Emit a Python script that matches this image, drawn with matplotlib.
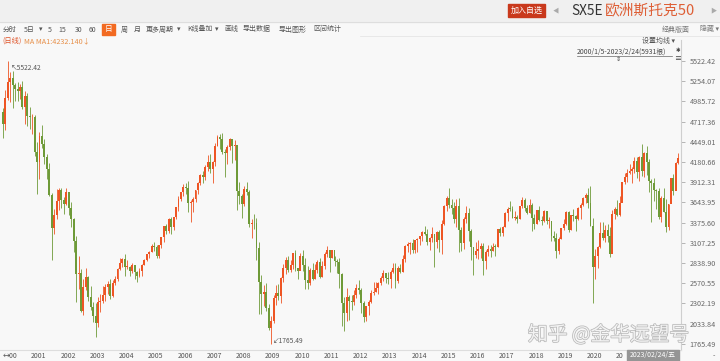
import matplotlib
matplotlib.use("Agg")
import matplotlib.pyplot as plt
import matplotlib.patheffects as pe
from matplotlib.patches import Rectangle

plt.rcParams['font.family'] = ['Noto Sans CJK SC', 'DejaVu Sans']

# SX5E monthly candles, Jan 2000 .. Feb 2023
first_open = 4849
closes = [
    4684, 5034, 5249, 5303, 5200, 5145, 5122, 5175, 4915, 5058, 4790, 4772,  # 2000
    4780, 4319, 4185, 4526, 4426, 4243, 4091, 3744, 3297, 3478, 3658, 3806,  # 2001
    3670, 3625, 3784, 3574, 3425, 3133, 2686, 2710, 2204, 2518, 2657, 2386,  # 2002
    2248, 2140, 2036, 2324, 2330, 2419, 2519, 2556, 2395, 2575, 2631, 2761,  # 2003
    2839, 2894, 2787, 2788, 2736, 2811, 2720, 2670, 2726, 2812, 2876, 2951,  # 2004
    2984, 3058, 3056, 2930, 3076, 3182, 3326, 3263, 3429, 3321, 3447, 3579,  # 2005
    3692, 3775, 3854, 3839, 3637, 3649, 3692, 3809, 3899, 4004, 3987, 4120,  # 2006
    4179, 4088, 4182, 4393, 4511, 4489, 4315, 4294, 4381, 4490, 4396, 4400,  # 2007
    3792, 3724, 3628, 3826, 3777, 3352, 3368, 3365, 3038, 2592, 2430, 2451,  # 2008
    2237, 1977, 2071, 2375, 2442, 2401, 2638, 2775, 2873, 2743, 2817, 2966,  # 2009
    2776, 2728, 2931, 2817, 2610, 2574, 2742, 2623, 2748, 2845, 2651, 2793,  # 2010
    2954, 3013, 2911, 3011, 2862, 2849, 2692, 2301, 2179, 2385, 2330, 2317,  # 2011
    2417, 2512, 2477, 2306, 2118, 2265, 2325, 2440, 2454, 2503, 2575, 2636,  # 2012
    2703, 2634, 2624, 2712, 2770, 2603, 2768, 2721, 2893, 3068, 3086, 3109,  # 2013
    3013, 3149, 3162, 3198, 3245, 3228, 3116, 3172, 3226, 3113, 3251, 3146,  # 2014
    3351, 3599, 3697, 3615, 3570, 3424, 3600, 3270, 3101, 3418, 3506, 3268,  # 2015
    3045, 2946, 3004, 3028, 3063, 2865, 2990, 3023, 3002, 3055, 3052, 3291,  # 2016
    3231, 3320, 3501, 3560, 3555, 3442, 3450, 3421, 3595, 3674, 3570, 3504,  # 2017
    3609, 3439, 3362, 3536, 3407, 3396, 3525, 3393, 3399, 3198, 3173, 3001,  # 2018
    3159, 3298, 3352, 3515, 3281, 3474, 3467, 3427, 3569, 3604, 3704, 3745,  # 2019
    3641, 3329, 2786, 2928, 3050, 3234, 3174, 3273, 3194, 2958, 3493, 3553,  # 2020
    3481, 3636, 3919, 3975, 4039, 4064, 4089, 4196, 4048, 4250, 4063, 4298,  # 2021
    4174, 3924, 3903, 3803, 3789, 3455, 3708, 3517, 3318, 3618, 3965, 3794,  # 2022
    4163, 4232,                                                              # 2023
]
highs = [
    4904, 5137, 5522, 5370, 5395, 5233, 5237, 5217, 5258, 5122, 5102, 4917,
    4815, 4800, 4452, 4581, 4672, 4483, 4286, 4165, 3771, 3560, 3825, 3830,
    3837, 3716, 3833, 3784, 3654, 3436, 3194, 2926, 2755, 2619, 2769, 2671,
    2529, 2316, 2301, 2383, 2421, 2527, 2560, 2600, 2624, 2611, 2664, 2770,
    2911, 2905, 2959, 2880, 2802, 2843, 2814, 2725, 2772, 2822, 2886, 2958,
    3002, 3092, 3114, 3077, 3078, 3190, 3336, 3361, 3438, 3445, 3452, 3587,
    3730, 3779, 3890, 3898, 3933, 3670, 3716, 3810, 3914, 4023, 4057, 4140,
    4272, 4284, 4194, 4433, 4545, 4557, 4572, 4351, 4409, 4500, 4470, 4469,
    4405, 3908, 3756, 3856, 3920, 3812, 3420, 3484, 3438, 3114, 2684, 2543,
    2577, 2299, 2131, 2407, 2552, 2560, 2650, 2822, 2915, 2933, 2883, 2966,
    3017, 2773, 2970, 3016, 2900, 2797, 2773, 2839, 2830, 2877, 2905, 2867,
    2990, 3068, 3002, 3016, 2926, 2888, 2908, 2711, 2390, 2502, 2410, 2415,
    2483, 2556, 2611, 2500, 2330, 2266, 2342, 2475, 2590, 2580, 2586, 2666,
    2749, 2690, 2724, 2740, 2836, 2835, 2802, 2821, 2943, 3078, 3111, 3112,
    3155, 3150, 3174, 3200, 3267, 3325, 3294, 3182, 3314, 3226, 3260, 3277,
    3404, 3604, 3731, 3836, 3689, 3649, 3686, 3701, 3322, 3444, 3589, 3567,
    3285, 3054, 3121, 3144, 3099, 3101, 3009, 3073, 3071, 3100, 3084, 3294,
    3321, 3332, 3513, 3576, 3667, 3593, 3527, 3482, 3601, 3709, 3697, 3604,
    3687, 3634, 3491, 3537, 3597, 3461, 3536, 3528, 3452, 3402, 3257, 3233,
    3180, 3306, 3423, 3525, 3532, 3482, 3560, 3473, 3585, 3633, 3713, 3766,
    3836, 3867, 3435, 3024, 3062, 3384, 3380, 3343, 3357, 3319, 3543, 3581,
    3671, 3724, 3919, 4031, 4087, 4158, 4118, 4243, 4242, 4262, 4415, 4307,
    4392, 4223, 3960, 3968, 3827, 3838, 3729, 3831, 3689, 3627, 3969, 4017,
    4175, 4298,
]
lows = [
    4500, 4612, 4999, 4984, 4902, 4990, 4993, 5020, 4883, 4690, 4658, 4613,
    4546, 4264, 3755, 3960, 4366, 4156, 3948, 3727, 2877, 3221, 3418, 3543,
    3564, 3486, 3613, 3474, 3319, 2979, 2319, 2486, 2187, 2150, 2481, 2331,
    2213, 2051, 1849, 1983, 2188, 2309, 2331, 2422, 2366, 2380, 2544, 2599,
    2751, 2789, 2659, 2754, 2659, 2703, 2626, 2580, 2646, 2666, 2805, 2867,
    2910, 2979, 2993, 2911, 2904, 3040, 3120, 3223, 3240, 3218, 3277, 3423,
    3530, 3662, 3733, 3759, 3510, 3379, 3522, 3655, 3749, 3878, 3901, 3944,
    4060, 4030, 3906, 4127, 4389, 4357, 4288, 3983, 4147, 4335, 4173, 4209,
    3538, 3621, 3431, 3589, 3745, 3312, 3174, 3289, 2872, 2165, 2163, 2262,
    2196, 1950, 1765.49, 2040, 2285, 2342, 2300, 2590, 2698, 2717, 2713, 2753,
    2733, 2631, 2751, 2726, 2489, 2488, 2548, 2617, 2623, 2711, 2632, 2653,
    2758, 2912, 2721, 2898, 2792, 2710, 2510, 1995, 1936, 2069, 2081, 2208,
    2286, 2374, 2426, 2180, 2050, 2068, 2150, 2305, 2415, 2458, 2424, 2551,
    2605, 2568, 2565, 2511, 2706, 2511, 2570, 2705, 2720, 2855, 2982, 2963,
    2972, 2966, 2980, 3082, 3128, 3204, 3078, 3006, 3111, 2791, 3039, 2990,
    2963, 3345, 3532, 3574, 3491, 3366, 3318, 2990, 2999, 3019, 3372, 3125,
    2876, 2672, 2909, 2887, 2908, 2678, 2762, 2931, 2923, 2993, 2933, 3049,
    3197, 3196, 3313, 3398, 3528, 3440, 3414, 3365, 3423, 3565, 3534, 3488,
    3509, 3262, 3291, 3355, 3397, 3347, 3380, 3355, 3297, 3136, 3124, 2909,
    2954, 3151, 3282, 3345, 3252, 3281, 3400, 3266, 3406, 3425, 3589, 3631,
    3571, 3329, 2303, 2627, 2778, 3038, 3150, 3123, 3114, 2923, 2988, 3419,
    3465, 3466, 3657, 3887, 3908, 4023, 3901, 4030, 3966, 3923, 3997, 3986,
    4014, 3779, 3387, 3659, 3555, 3428, 3380, 3516, 3250, 3279, 3631, 3735,
    3855, 4154,
]
y_ticks = [1765.49, 2033.84, 2302.19, 2570.55, 2838.90, 3107.25, 3375.60, 3643.95,
           3912.31, 4180.66, 4449.01, 4717.36, 4985.72, 5254.07, 5522.42]
year_ticks = list(range(2001, 2022))
year_labels = [str(y) for y in range(2001, 2021)] + ['20']  # 2021 is cut off by the date box

W, H = 720, 361
fig = plt.figure(figsize=(W / 100, H / 100), dpi=100)
fig.patch.set_facecolor('#f8f8f8')

# ---- UI layer (pixel coordinates) ----
ui = fig.add_axes([0, 0, 1, 1])
ui.set_xlim(0, W)
ui.set_ylim(H, 0)
ui.axis('off')
ui.add_patch(Rectangle((0, 0), W, 22, color='#f0f0f0', zorder=0))
ui.plot([0, W], [22, 22], color='#dedede', lw=0.8)
ui.add_patch(Rectangle((508, 4), 37, 13, color='#c9391c'))
ui.text(526.5, 10.5, '加入自选', color='white', fontsize=5.8, ha='center', va='center')
ui.text(556, 10.5, '◀', color='#aaaaaa', fontsize=4.5, ha='center', va='center')
ui.text(571, 11, 'SX5E', color='#333333', fontsize=9.8, ha='left', va='center')
ui.text(605, 11, '欧洲斯托克50', color='#de5f36', fontsize=10.6, ha='left', va='center')
ui.text(713, 10.5, '▶', color='#aaaaaa', fontsize=4.5, ha='center', va='center')

tools = [(3, '分时'), (24, '5日'), (39, '▾'), (48, '5'), (58, '15'), (75, '30'), (89, '60'),
         (121, '周'), (134, '月'), (146, '更多周期'), (177, '▾'), (187, 'K线叠加'), (215, '▾'),
         (224, '画线'), (243, '导出数据'), (279, '导出图形'), (313, '区间统计')]
for x, t in tools:
    ui.text(x, 29.5, t, color='#555555', fontsize=5, ha='left', va='center')
ui.add_patch(Rectangle((102, 23.5), 13, 11.5, color='#f26a21'))
ui.text(108.5, 29.3, '日', color='white', fontsize=5.5, ha='center', va='center')
ui.text(662, 29.5, '经典版面', color='#777777', fontsize=5, ha='left', va='center')
ui.text(700, 29.5, '隐藏 ▾', color='#777777', fontsize=5, ha='left', va='center')
ui.plot([360, 720], [35.5, 35.5], color='#e6e6e6', lw=0.6)

ui.text(2, 41, '(日线)', color='#e0552a', fontsize=5.2, ha='left', va='center')
ui.text(24, 41, 'MA MA1:4232.140↓', color='#e7904a', fontsize=5.2, ha='left', va='center')
ui.text(642, 41, '设置均线 ▾', color='#555555', fontsize=5, ha='left', va='center')
ui.text(577, 51.5, '2000/1/5-2023/2/24(5931根)', color='#444444', fontsize=4.9,
        ha='left', va='center')
ui.plot([577, 672], [55.5, 55.5], color='#666666', lw=0.5)
ui.text(676, 51, '✱', color='#444444', fontsize=4, ha='left', va='center')
ui.text(618, 59, '⇕', color='#444444', fontsize=4.5, ha='center', va='center')
ui.text(678, 59.5, '≡', color='#444444', fontsize=5, ha='center', va='center')

# ---- chart layer ----
# y scale from tick label pixel positions: 1765.49 at y=343.7, 5522.42 at y=61
px_lo, px_hi = 343.7, 61.0
per_px = (y_ticks[-1] - y_ticks[0]) / (px_lo - px_hi)
ax_top, ax_bot, ax_right = 40, 350, 681
ymin = y_ticks[0] - (ax_bot - px_lo) * per_px
ymax = y_ticks[0] + (px_lo - ax_top) * per_px
# x scale: 2000/1/5 at x=2, 2023/2/24 at x=679
t0, t1 = 2000.01, 2023.15
ppy = (679 - 2) / (t1 - t0)
xmin = t0 - 2 / ppy
xmax = t0 + (ax_right - 2) / ppy

ax = fig.add_axes([0, (H - ax_bot) / H, ax_right / W, (ax_bot - ax_top) / H])
ax.set_facecolor('none')
ax.set_xlim(xmin, xmax)
ax.set_ylim(ymin, ymax)

t = [2000 + (i + 0.5) / 12 for i in range(len(closes))]
opens = [first_open] + closes[:-1]
up_c, dn_c = '#ee5524', '#6e9a38'
cols = [up_c if c >= o else dn_c for o, c in zip(opens, closes)]
ax.vlines(t, lows, highs, colors=cols, lw=0.6, zorder=2)
bottoms = [min(o, c) for o, c in zip(opens, closes)]
heights = [max(abs(c - o), 10) for o, c in zip(opens, closes)]
ax.bar(t, heights, bottom=bottoms, width=0.78 / 12, color=cols, lw=0, zorder=3)

for s in ['top', 'left']:
    ax.spines[s].set_visible(False)
ax.spines['right'].set_color('#cfcfcf')
ax.spines['right'].set_linewidth(0.8)
ax.spines['bottom'].set_color('#dddddd')
ax.spines['bottom'].set_linewidth(0.8)

ax.yaxis.tick_right()
ax.set_yticks(y_ticks)
ax.set_yticklabels(['%.2f' % v for v in y_ticks])
ax.tick_params(axis='y', length=3, width=0.6, color='#aaaaaa', pad=3.2,
               labelsize=5.2, labelcolor='#666666')

ax.set_xticks([2000.05] + year_ticks)
ax.set_xticklabels(['↔00'] + year_labels)
ax.tick_params(axis='x', length=0, pad=1.6, labelsize=5, labelcolor='#555555')
for lab in ax.get_xticklabels():
    lab.set_ha('left')

ih = highs.index(max(highs))
il = lows.index(min(lows))
ax.annotate('↖%.2f' % y_ticks[-1], (t[ih], highs[ih]), xytext=(2, -5),
            textcoords='offset points', fontsize=4.8, color='#555555', va='center')
ax.annotate('↙%.2f' % y_ticks[0], (t[il], lows[il]), xytext=(1.5, 2),
            textcoords='offset points', fontsize=4.8, color='#555555', va='center')

# ---- overlay ----
ov = fig.add_axes([0, 0, 1, 1])
ov.set_xlim(0, W)
ov.set_ylim(H, 0)
ov.axis('off')
ov.set_facecolor('none')
ov.add_patch(Rectangle((627, 349.5), 52, 11.5, color='#959595'))
ov.text(653, 355.3, '2023/02/24/五', color='white', fontsize=5, ha='center', va='center')
ov.text(714, 356, '-', color='#555555', fontsize=5, ha='center', va='center')
ov.text(528, 335, '知乎 @金华远望号', fontsize=14.2, color='#f3f3f3', ha='left', va='center',
        path_effects=[pe.withStroke(linewidth=1.1, foreground='#b9b9b9')])

fig.savefig('out.png', dpi=100, facecolor=fig.get_facecolor())
